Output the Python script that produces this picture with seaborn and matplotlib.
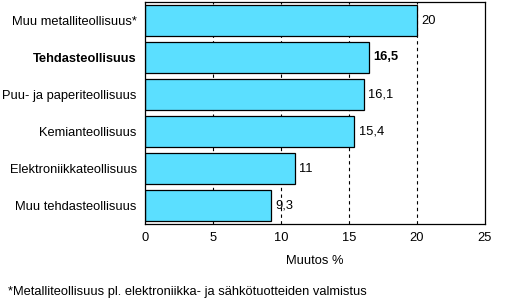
import matplotlib
matplotlib.use("Agg")
import matplotlib.pyplot as plt
import seaborn as sns
import pandas as pd

categories = ["Muu metalliteollisuus*", "Tehdasteollisuus", "Puu- ja paperiteollisuus",
              "Kemianteollisuus", "Elektroniikkateollisuus", "Muu tehdasteollisuus"]
values = [20, 16.5, 16.1, 15.4, 11, 9.3]
value_labels = ["20", "16,5", "16,1", "15,4", "11", "9,3"]
xticks = [0, 5, 10, 15, 20, 25]

sns.set_style("white")
plt.rcParams['font.family'] = ['Liberation Sans', 'DejaVu Sans']
plt.rcParams['text.color'] = 'black'
plt.rcParams['axes.labelcolor'] = 'black'
plt.rcParams['xtick.color'] = 'black'
plt.rcParams['ytick.color'] = 'black'
fs = 9.3

df = pd.DataFrame({"cat": categories, "val": values})
fig = plt.figure(figsize=(5.32, 2.99), dpi=100)
ax = fig.add_axes([145/532, 75/299, 340/532, 222/299])
for x in [5, 10, 15, 20]:
    ax.axvline(x, color="black", lw=0.8, ls=(0, (3, 3)), zorder=0)
sns.barplot(data=df, x="val", y="cat", orient="h", color="#5BDFFF",
            edgecolor="black", linewidth=0.9, width=0.84, saturation=1, ax=ax, zorder=2)
ax.set_xlim(0, 25)
ax.set_xticks(xticks)
ax.set_xticklabels([str(t) for t in xticks], fontsize=fs)
ax.tick_params(axis="x", direction="in", length=4, width=0.8, pad=6, colors="black")
ax.tick_params(axis="y", length=0, pad=6, labelsize=fs, colors="black")
for lbl in ax.get_yticklabels():
    if lbl.get_text() == "Tehdasteollisuus":
        lbl.set_fontweight("bold")
ax.set_xlabel("Muutos %", fontsize=fs, labelpad=8, color="black")
ax.set_ylabel("")
for spine in ax.spines.values():
    spine.set_visible(True)
    spine.set_color("black")
    spine.set_linewidth(0.9)
for i, (v, t) in enumerate(zip(values, value_labels)):
    ax.text(v + 0.3, i, t, va="center", ha="left", fontsize=fs, color="black",
            fontweight="bold" if categories[i] == "Tehdasteollisuus" else "normal")
fig.text(8/532, 1 - 292/299, "*Metalliteollisuus pl. elektroniikka- ja sähkötuotteiden valmistus",
         fontsize=fs, va="center", ha="left", color="black")
fig.savefig("out.png", dpi=100)
